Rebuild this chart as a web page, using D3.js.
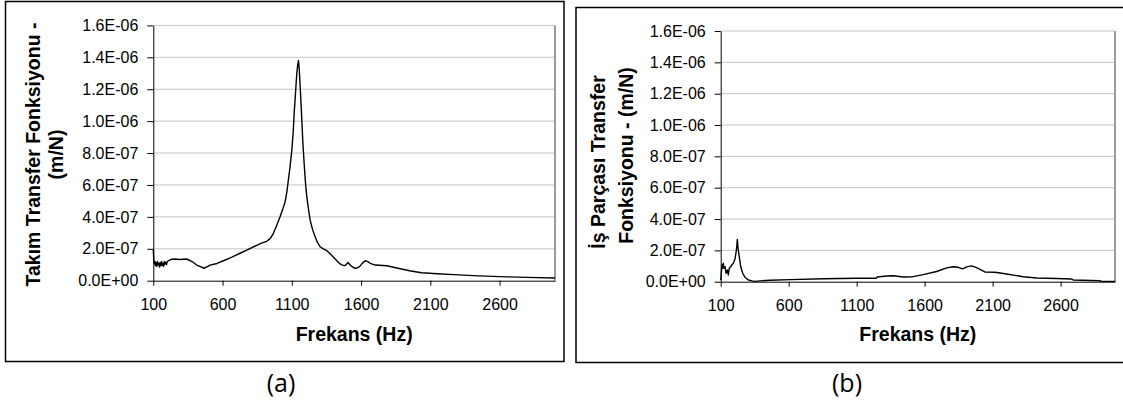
<!DOCTYPE html>
<html>
<head>
<meta charset="utf-8">
<script src="https://cdn.jsdelivr.net/npm/d3@7"></script>
<style>
  body { margin: 0; background: #fff; }
  svg { display: block; }
  .tick text { font-family: "Liberation Sans", Arial, sans-serif; font-size: 16px; fill: #000; }
  .title { font-family: "Liberation Sans", Arial, sans-serif; font-size: 19.5px; font-weight: bold; }
  .caption { font-family: "Open Sans", sans-serif; font-size: 25px; }
</style>
</head>
<body>
<script>
// values are in units of 1e-7 m/N
const UNIT = 1e-7;
const yTicks = [0, 2e-7, 4e-7, 6e-7, 8e-7, 1e-6, 1.2e-6, 1.4e-6, 1.6e-6];
const xTicks = [100, 600, 1100, 1600, 2100, 2600];

// (a) takım
const freqA = [100,104,108,112,116,120,125,130,135,140,145,150,155,160,165,170,175,180,185,190,195,200,210,220,233,260,290,341,380,413,440,466,490,510,560,606,660,726,790,847,880,919,945,967,990,1015,1035,1052,1065,1075,1088,1100,1110,1117,1127,1136,1142,1148,1154,1160,1166,1172,1180,1189,1198,1208,1220,1232,1250,1268,1285,1304,1330,1353,1380,1401,1425,1449,1465,1480,1492,1505,1515,1526,1540,1557,1572,1589,1610,1630,1648,1666,1702,1786,1883,1950,2037,2150,2270,2450,2656,2800,3000];
const magA = [1.95,1.15,1.05,1.2,0.95,1.15,0.9,1.2,1.0,1.1,0.85,1.15,0.95,1.2,0.95,1.1,0.9,1.2,1.05,1.15,1.0,1.2,1.25,1.3,1.34,1.36,1.33,1.36,1.2,0.98,0.88,0.78,0.88,0.98,1.08,1.25,1.45,1.72,1.98,2.22,2.35,2.47,2.65,2.97,3.45,4.01,4.5,4.95,5.6,6.31,7.2,8.19,9.3,10.5,11.8,13.0,13.5,13.8,13.2,12.2,11.2,10.1,8.6,7.36,6.2,5.27,4.5,3.81,3.2,2.76,2.4,2.13,1.98,1.88,1.65,1.47,1.25,1.05,0.98,0.94,1.0,1.15,1.05,0.94,0.85,0.78,0.8,0.88,1.1,1.25,1.2,1.09,0.98,0.94,0.75,0.62,0.5,0.44,0.38,0.3,0.24,0.21,0.17];

// (b) iş parçası
const freqB = [100,103,107,111,115,119,124,132,139,149,156,163,174,183,193,205,212,218,222,226,229,237,247,262,279,303,330,352,389,462,610,855,1100,1245,1250,1321,1369,1443,1516,1590,1688,1762,1810,1847,1879,1909,1946,1982,2043,2117,2203,2325,2424,2571,2681,2693,2889,2900,3000];
const magB = [0.1,0.3,0.9,1.08,0.86,1.18,0.86,0.97,0.54,0.75,0.43,0.86,0.97,1.08,1.18,1.45,1.83,2.2,2.69,2.3,2.04,1.57,0.97,0.54,0.28,0.11,0.05,0.02,0.05,0.09,0.13,0.19,0.22,0.22,0.3,0.36,0.38,0.3,0.32,0.45,0.65,0.88,0.95,0.92,0.82,0.95,1.01,0.9,0.62,0.6,0.49,0.32,0.24,0.2,0.17,0.11,0.06,0.02,0.02];

const fmtE = v => v.toExponential(1).toUpperCase().replace(/E([+-])(\d)$/, "E$10$2");

const svg = d3.select("body").append("svg")
  .attr("width", 1123)
  .attr("height", 407);

svg.append("rect").attr("width", 1123).attr("height", 407).attr("fill", "#fff");

function drawPanel(p) {
  // outer frame
  svg.append("rect")
    .attr("x", p.box[0]).attr("y", p.box[1])
    .attr("width", p.box[2]).attr("height", p.box[3])
    .attr("fill", "none").attr("stroke", "#000").attr("stroke-width", 1.5);

  const x = d3.scaleLinear().domain([100, 3000]).range([p.left, p.right]);
  const y = d3.scaleLinear().domain([0, 1.6e-6]).range([p.bottom, p.top]);

  const g = svg.append("g");

  // grid
  g.append("g").selectAll("line")
    .data(yTicks.slice(1))
    .enter().append("line")
    .attr("x1", p.left).attr("x2", p.right)
    .attr("y1", d => y(d)).attr("y2", d => y(d))
    .attr("stroke", "#c4c4c4").attr("stroke-width", 1);

  // plot area right border
  g.append("line")
    .attr("x1", p.right).attr("x2", p.right)
    .attr("y1", p.top).attr("y2", p.bottom)
    .attr("stroke", "#9a9a9a").attr("stroke-width", 2);

  // curve
  const data = p.freq.map((f, i) => [f, p.mag[i] * UNIT]);
  g.append("path")
    .datum(data)
    .attr("fill", "none")
    .attr("stroke", "#000")
    .attr("stroke-width", 1.4)
    .attr("stroke-linejoin", "round")
    .attr("d", d3.line().x(d => x(d[0])).y(d => y(d[1])));

  // axes
  const yAxis = g.append("g")
    .attr("transform", "translate(" + p.left + ",0)")
    .call(d3.axisLeft(y).tickValues(yTicks).tickFormat(fmtE).tickSize(6).tickPadding(9).tickSizeOuter(0));
  const xAxis = g.append("g")
    .attr("transform", "translate(0," + p.bottom + ")")
    .call(d3.axisBottom(x).tickValues(xTicks).tickFormat(d3.format("d")).tickSize(5).tickPadding(13).tickSizeOuter(0));
  [yAxis, xAxis].forEach(a => {
    a.attr("font-family", null).attr("font-size", null);
    a.selectAll("path, line").attr("stroke", "#000");
  });

  // x title
  svg.append("text")
    .attr("class", "title")
    .attr("x", (p.left + p.right) / 2).attr("y", 341)
    .attr("text-anchor", "middle")
    .text("Frekans (Hz)");

  // y title (two lines)
  p.ytitle.forEach(t => {
    svg.append("text")
      .attr("class", "title")
      .attr("text-anchor", "middle")
      .attr("transform", "translate(" + t.x + "," + t.y + ") rotate(-90)")
      .text(t.text);
  });

  svg.append("text")
    .attr("class", "caption")
    .attr("x", p.caption[0]).attr("y", p.caption[1])
    .attr("text-anchor", "middle")
    .text(p.captionText);
}

drawPanel({
  box: [5.5, 1.5, 558.5, 360],
  left: 153.3, right: 555, top: 25.4, bottom: 280.7,
  freq: freqA, mag: magA,
  ytitle: [
    { text: "Takım Transfer Fonksiyonu -", x: 40, y: 154.5 },
    { text: "(m/N)", x: 63, y: 154.5 }
  ],
  caption: [281, 392], captionText: "(a)"
});

drawPanel({
  box: [576, 7.5, 560, 355],
  left: 720.7, right: 1115, top: 31, bottom: 281.7,
  freq: freqB, mag: magB,
  ytitle: [
    { text: "İş Parçası Transfer", x: 605, y: 162 },
    { text: "Fonksiyonu - (m/N)", x: 633, y: 155.5 }
  ],
  caption: [847, 392], captionText: "(b)"
});
</script>
</body>
</html>
